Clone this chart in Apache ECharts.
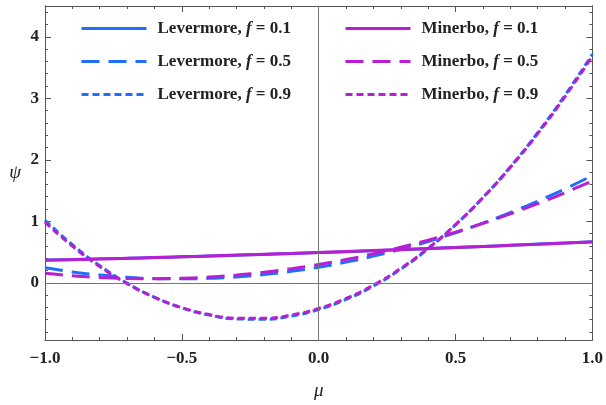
<!DOCTYPE html>
<html>
<head>
<meta charset="utf-8">
<script src="https://cdn.jsdelivr.net/npm/echarts@6/dist/echarts.min.js"></script>
<style>
    html, body { margin: 0; padding: 0; background: #fff; }
    #chart { width: 606px; height: 405px; }
</style>
</head>
<body>
<div id="chart"></div>
<script>
    // mu sample points and psi values
    const mu = [-1.0, -0.9, -0.8, -0.7, -0.6, -0.5, -0.4, -0.3, -0.2, -0.1, 0.0,
                0.1, 0.2, 0.3, 0.4, 0.5, 0.6, 0.7, 0.8, 0.9, 1.0];

    const levermore01 = [0.369, 0.378, 0.389, 0.399, 0.411, 0.423, 0.435, 0.448, 0.462, 0.476, 0.491,
                         0.506, 0.522, 0.538, 0.555, 0.573, 0.591, 0.609, 0.629, 0.648, 0.669];
    const levermore05 = [0.243, 0.177, 0.127, 0.091, 0.070, 0.064, 0.072, 0.095, 0.133, 0.186, 0.254,
                         0.336, 0.433, 0.545, 0.672, 0.814, 0.970, 1.141, 1.327, 1.527, 1.743];
    const levermore09 = [1.017, 0.620, 0.279, -0.006, -0.235, -0.408, -0.526, -0.587, -0.592, -0.541, -0.434,
                         -0.271, -0.052, 0.223, 0.555, 0.942, 1.385, 1.884, 2.439, 3.050, 3.717];

    const minerbo01 = [0.365, 0.376, 0.387, 0.399, 0.411, 0.423, 0.436, 0.450, 0.464, 0.478, 0.493,
                       0.508, 0.524, 0.540, 0.556, 0.573, 0.591, 0.609, 0.627, 0.646, 0.665];
    const minerbo05 = [0.156, 0.115, 0.087, 0.070, 0.066, 0.074, 0.094, 0.127, 0.171, 0.228, 0.297,
                       0.378, 0.471, 0.577, 0.694, 0.824, 0.966, 1.120, 1.287, 1.465, 1.656];
    const minerbo09 = [0.985, 0.597, 0.264, -0.014, -0.237, -0.404, -0.517, -0.575, -0.577, -0.525, -0.417,
                       -0.255, -0.037, 0.235, 0.563, 0.946, 1.383, 1.876, 2.424, 3.027, 3.685];

    const yMajor = [0, 1, 2, 3, 4];
    const yMinor = [-0.8, -0.6, -0.4, -0.2, 0.2, 0.4, 0.6, 0.8, 1.2, 1.4, 1.6, 1.8, 2.2, 2.4, 2.6, 2.8,
                    3.2, 3.4, 3.6, 3.8, 4.2, 4.4];

    const blue = '#1f6fff';
    const magenta = '#b81ed2';
    const frameColor = '#555';
    const font = 'Liberation Serif';

    const yMin = -0.93, yMax = 4.5;

    function pairs(values) {
        return mu.map((m, i) => [m, values[i]]);
    }

    function curve(name, values, color, dash) {
        return {
            name: name,
            type: 'line',
            data: pairs(values),
            smooth: true,
            showSymbol: false,
            symbol: 'none',
            lineStyle: { color: color, width: 3, type: dash },
            itemStyle: { color: color },
            z: 3
        };
    }

    function legendText(name) {
        const parts = name.split('f = ');
        return '{a|' + parts[0] + '}{i|f}{a| = ' + parts[1] + '}';
    }

    const legendRich = {
        a: { fontFamily: font, fontWeight: 'bold', fontSize: 17, color: '#222' },
        i: { fontFamily: font, fontStyle: 'italic', fontWeight: 'bold', fontSize: 17, color: '#222' }
    };

    function yAxisDef(position, values, len, labels) {
        return {
            type: 'value',
            min: yMin,
            max: yMax,
            position: position,
            axisLine: { show: true, onZero: false, lineStyle: { color: frameColor, width: 1 } },
            axisTick: { show: true, inside: true, length: len, customValues: values,
                        lineStyle: { color: frameColor } },
            axisLabel: { show: labels, customValues: yMajor, margin: 6,
                         fontFamily: font, fontWeight: 'bold', fontSize: 17, color: '#222' },
            splitLine: { show: false }
        };
    }

    function xAxisDef(position, labels) {
        return {
            type: 'value',
            min: -1,
            max: 1,
            interval: 0.5,
            position: position,
            axisLine: { show: true, onZero: false, lineStyle: { color: frameColor, width: 1 } },
            axisTick: { show: true, inside: true, length: 6, lineStyle: { color: frameColor } },
            minorTick: { show: true, splitNumber: 5, length: 3, lineStyle: { color: frameColor } },
            axisLabel: {
                show: labels, margin: 10,
                fontFamily: font, fontWeight: 'bold', fontSize: 17, color: '#222',
                formatter: v => (v < 0 ? '\u2212' : '') + Math.abs(v).toFixed(1)
            },
            splitLine: { show: false }
        };
    }

    const xBottom = xAxisDef('bottom', true);
    xBottom.name = 'μ';
    xBottom.nameLocation = 'middle';
    xBottom.nameGap = 41;
    xBottom.nameTextStyle = { fontFamily: font, fontStyle: 'italic', fontSize: 19, color: '#222' };

    const yLeft = yAxisDef('left', yMajor, 6, true);
    yLeft.name = 'ψ';
    yLeft.nameLocation = 'middle';
    yLeft.nameRotate = 0;
    yLeft.nameGap = 24;
    yLeft.nameTextStyle = { fontFamily: font, fontStyle: 'italic', fontSize: 19, color: '#222' };

    const legendCommon = {
        orient: 'vertical', top: 15, itemGap: 16,
        itemWidth: 65, itemHeight: 16,
        itemStyle: { color: 'rgba(0,0,0,0)', borderWidth: 0 },
        lineStyle: { width: 3 },
        formatter: legendText,
        textStyle: { rich: legendRich, padding: [0, 0, 0, 6] }
    };

    const chart = echarts.init(document.getElementById('chart'));
    chart.setOption({
        animation: false,
        backgroundColor: '#fff',
        grid: { left: 45, right: 13, top: 6, bottom: 60 },
        xAxis: [xBottom, xAxisDef('top', false)],
        yAxis: [
            yLeft,
            yAxisDef('left', yMinor, 3, false),
            yAxisDef('right', yMajor, 6, false),
            yAxisDef('right', yMinor, 3, false)
        ],
        legend: [
            Object.assign({}, legendCommon, {
                left: 75,
                data: ['Levermore, f = 0.1', 'Levermore, f = 0.5', 'Levermore, f = 0.9']
            }),
            Object.assign({}, legendCommon, {
                left: 339,
                data: ['Minerbo, f = 0.1', 'Minerbo, f = 0.5', 'Minerbo, f = 0.9']
            })
        ],
        series: [
            {
                type: 'line',
                data: [],
                markLine: {
                    silent: true,
                    symbol: 'none',
                    label: { show: false },
                    lineStyle: { color: '#777', width: 1, type: 'solid' },
                    data: [{ yAxis: 0 }, { xAxis: 0 }]
                },
                z: 1
            },
            curve('Levermore, f = 0.1', levermore01, blue, 'solid'),
            curve('Levermore, f = 0.5', levermore05, blue, [18, 9]),
            curve('Levermore, f = 0.9', levermore09, blue, [7, 4]),
            curve('Minerbo, f = 0.1', minerbo01, magenta, 'solid'),
            curve('Minerbo, f = 0.5', minerbo05, magenta, [18, 9]),
            curve('Minerbo, f = 0.9', minerbo09, magenta, [7, 4])
        ]
    });
</script>
</body>
</html>
